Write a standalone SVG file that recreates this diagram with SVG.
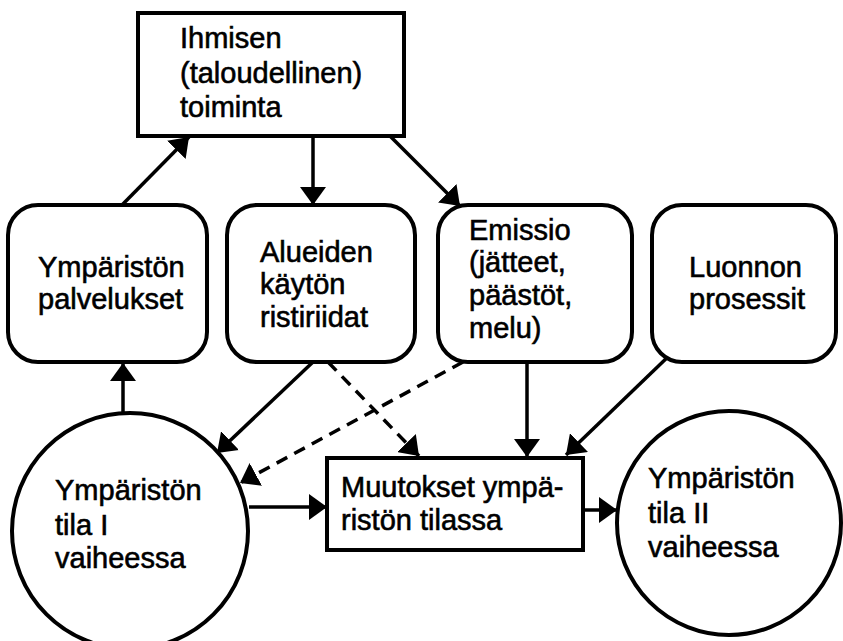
<svg xmlns="http://www.w3.org/2000/svg" width="843" height="641" viewBox="0 0 843 641">
  <defs>
    <marker id="arrow" viewBox="0 0 18 26" refX="18" refY="13" markerWidth="18" markerHeight="26" markerUnits="userSpaceOnUse" orient="auto">
      <path d="M0,0 L18,13 L0,26 Z" fill="#000"/>
    </marker>
    <style>
      .box { fill: #fff; stroke: #000; stroke-width: 4; }
      .lbl { font-family: "Liberation Sans", Arial, Helvetica, sans-serif; font-size: 29px; fill: #000; stroke: #000; stroke-width: 0.6; }
      .edge { stroke: #000; stroke-width: 3.5; fill: none; marker-end: url(#arrow); }
      .dash { stroke-dasharray: 12 8; }
    </style>
  </defs>
  <rect width="843" height="641" fill="#fff"/>

  <!-- connectors -->
  <g id="connectors">
    <line class="edge" x1="123" y1="413" x2="123" y2="363"/>
    <line class="edge" x1="122" y1="205" x2="189" y2="137"/>
    <line class="edge" x1="313" y1="136" x2="313" y2="205"/>
    <line class="edge" x1="390" y1="136" x2="460" y2="206"/>
    <line class="edge" x1="313" y1="362" x2="217" y2="453"/>
    <line class="edge dash" x1="328" y1="362" x2="419" y2="456"/>
    <line class="edge dash" x1="463" y1="362" x2="240" y2="483"/>
    <line class="edge" x1="527" y1="362" x2="527" y2="457"/>
    <line class="edge" x1="673" y1="352" x2="566" y2="455"/>
    <line class="edge" x1="249" y1="507" x2="327" y2="507"/>
    <line class="edge" x1="583" y1="510" x2="617" y2="510"/>
  </g>

  <!-- human (economic) activity -->
  <g id="toiminta">
    <rect class="box" x="138" y="13" width="266" height="123"/>
    <text class="lbl" x="180" y="48">Ihmisen</text>
    <text class="lbl" x="180" y="83">(taloudellinen)</text>
    <text class="lbl" x="180" y="117">toiminta</text>
  </g>

  <g id="palvelukset">
    <rect class="box" x="8" y="205" width="199" height="157" rx="30" ry="30"/>
    <text class="lbl" x="38" y="277">Ympäristön</text>
    <text class="lbl" x="38" y="309">palvelukset</text>
  </g>

  <g id="ristiriidat">
    <rect class="box" x="227" y="205" width="188" height="157" rx="30" ry="30"/>
    <text class="lbl" x="260" y="262">Alueiden</text>
    <text class="lbl" x="260" y="294">käytön</text>
    <text class="lbl" x="260" y="327">ristiriidat</text>
  </g>

  <g id="emissio">
    <rect class="box" x="438" y="205" width="194" height="157" rx="30" ry="30"/>
    <text class="lbl" x="469" y="240">Emissio</text>
    <text class="lbl" x="469" y="272">(jätteet,</text>
    <text class="lbl" x="469" y="305">päästöt,</text>
    <text class="lbl" x="469" y="338">melu)</text>
  </g>

  <g id="prosessit">
    <rect class="box" x="652" y="205" width="184" height="157" rx="30" ry="30"/>
    <text class="lbl" x="689" y="277">Luonnon</text>
    <text class="lbl" x="689" y="309">prosessit</text>
  </g>

  <g id="tila1">
    <circle class="box" cx="130" cy="531" r="118"/>
    <text class="lbl" x="55" y="500">Ympäristön</text>
    <text class="lbl" x="55" y="535">tila I</text>
    <text class="lbl" x="55" y="568">vaiheessa</text>
  </g>

  <g id="muutokset">
    <rect class="box" x="327" y="458" width="256" height="92"/>
    <text class="lbl" x="341" y="497">Muutokset ympä-</text>
    <text class="lbl" x="341" y="530">ristön tilassa</text>
  </g>

  <g id="tila2">
    <circle class="box" cx="729" cy="523" r="112"/>
    <text class="lbl" x="648" y="488">Ympäristön</text>
    <text class="lbl" x="648" y="523">tila II</text>
    <text class="lbl" x="648" y="557">vaiheessa</text>
  </g>
</svg>
